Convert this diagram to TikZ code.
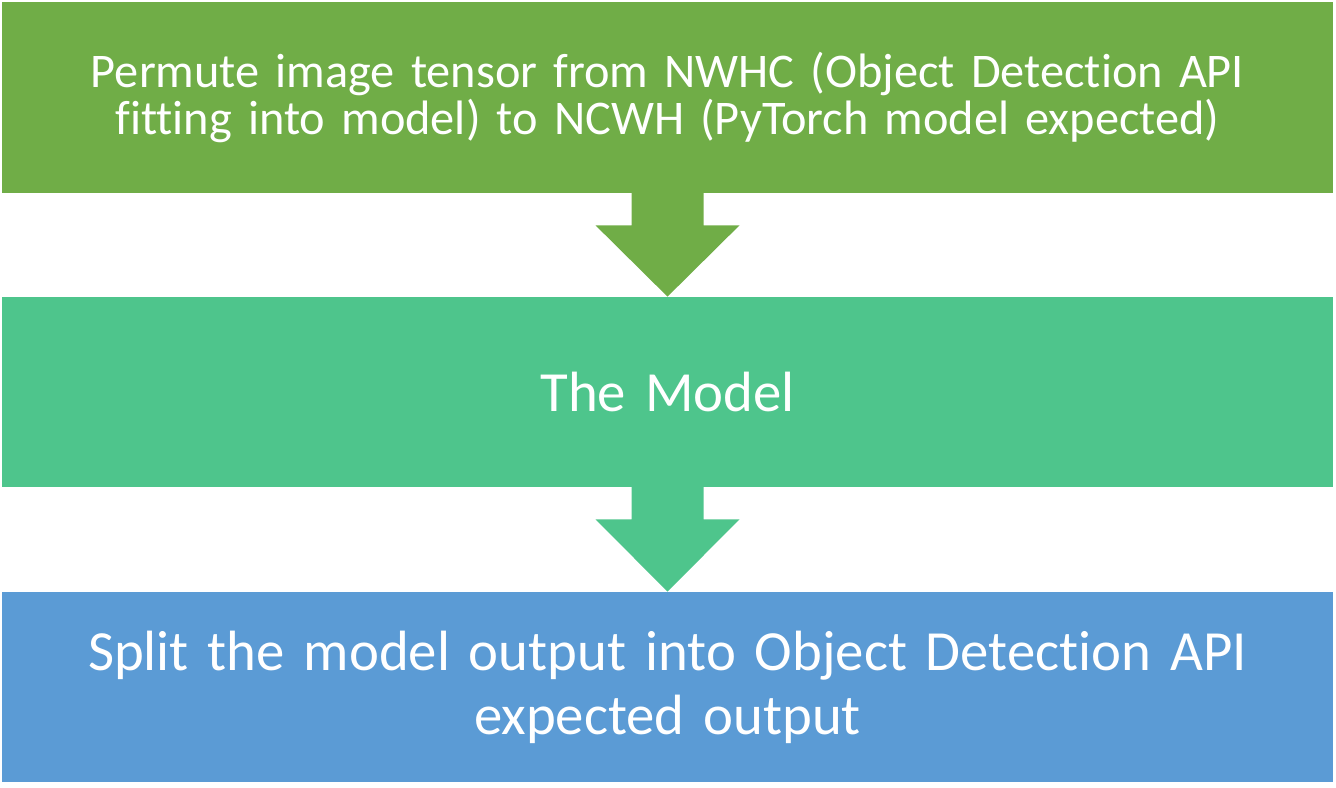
\documentclass[tikz,border=0pt]{standalone}
\usepackage{fontspec}
\setmainfont{Carlito}[Ligatures=NoCommon]
\usetikzlibrary{positioning,calc}
\definecolor{permutegreen}{RGB}{112,173,71}
\definecolor{modelgreen}{RGB}{78,197,140}
\definecolor{splitblue}{RGB}{91,155,213}
\begin{document}
\begin{tikzpicture}
    % Styles
    \tikzset{
        stage/.style={rectangle, minimum width=26.62cm, minimum height=3.8cm, text width=26cm, align=center, text=white, inner sep=0pt},
        smalltext/.style={font=\fontsize{27.5}{26.2}\selectfont},
        bigtext/.style={font=\fontsize{32.3}{36.4}\selectfont}
    }
    \useasboundingbox (0,0) rectangle (26.72,15.76);

    % Stages
    \node[stage, smalltext, fill=permutegreen, minimum height=3.82cm] (permute) at (13.35,13.81) {Permute image tensor from NWHC (Object Detection API\\fitting into model) to NCWH (PyTorch model expected)};
    \node[stage, bigtext, fill=modelgreen] (model) at (13.35,7.92) {The Model};
    \node[stage, bigtext, fill=splitblue] (split) at (13.35,2.02) {Split the model output into Object Detection API\\expected output};

    % Block arrows
    \fill[permutegreen] ($(permute.south)+(-0.72,0.02)$) -- ($(permute.south)+(-0.72,-0.64)$) -- ($(permute.south)+(-1.44,-0.64)$)
        -- (model.north) -- ($(permute.south)+(1.44,-0.64)$) -- ($(permute.south)+(0.72,-0.64)$) -- ($(permute.south)+(0.72,0.02)$) -- cycle;
    \fill[modelgreen] ($(model.south)+(-0.72,0.02)$) -- ($(model.south)+(-0.72,-0.64)$) -- ($(model.south)+(-1.44,-0.64)$)
        -- (split.north) -- ($(model.south)+(1.44,-0.64)$) -- ($(model.south)+(0.72,-0.64)$) -- ($(model.south)+(0.72,0.02)$) -- cycle;
\end{tikzpicture}
\end{document}
